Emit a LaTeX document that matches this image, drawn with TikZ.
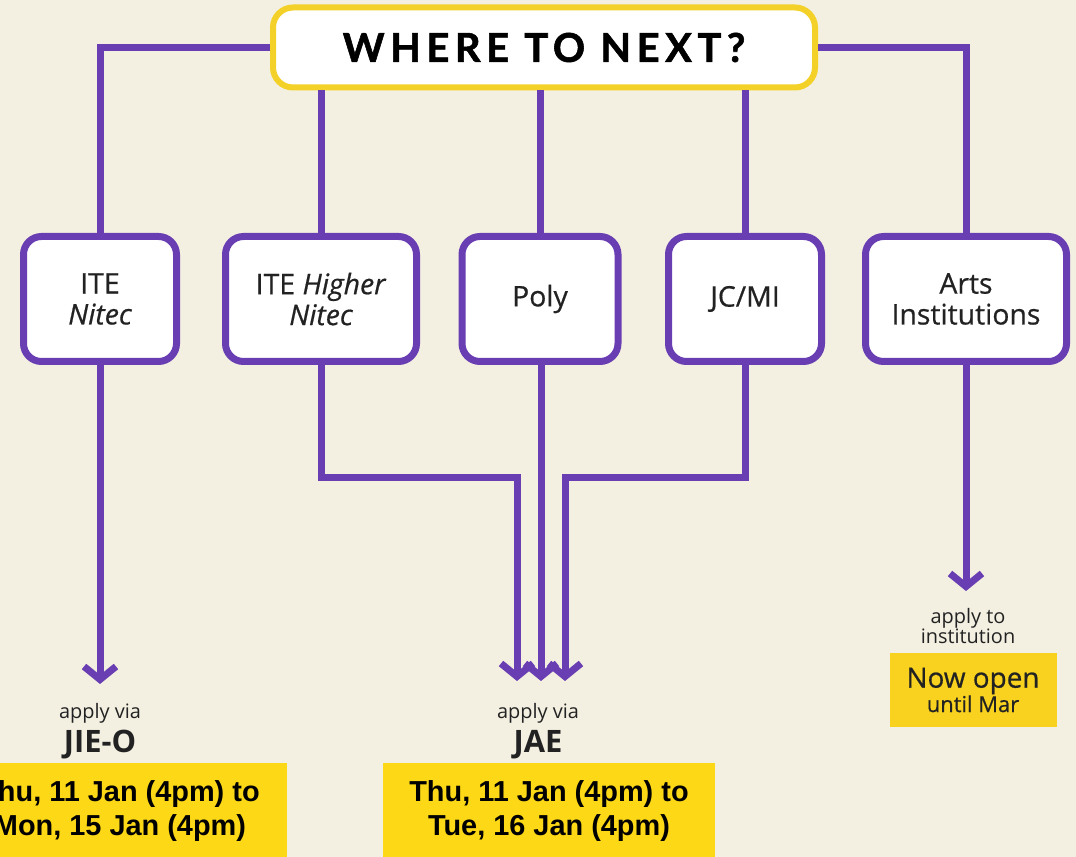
\documentclass[tikz,border=0pt]{standalone}
\usepackage{fontspec}
\setmainfont[FakeBold=0.6]{Open Sans}
\newfontfamily\plainfont{Open Sans}
\newfontfamily\datefont{Liberation Sans}
\newfontfamily\headfont[LetterSpace=14,BoldFeatures={FakeBold=1.4}]{Lato}
\usetikzlibrary{arrows.meta,positioning}
\definecolor{bgcol}{HTML}{F3F0E1}
\definecolor{routecol}{HTML}{6A3EB3}
\definecolor{rimcol}{HTML}{F4D128}
\definecolor{datecol}{HTML}{FDD816}
\definecolor{opencol}{HTML}{F8D21F}
\definecolor{inkcol}{HTML}{222222}
\tikzset{
  route/.style={draw=routecol, line width=7bp},
  arrowroute/.style={route, -{Straight Barb[length=13bp,width=32bp]}},
  pathbox/.style={draw=routecol, line width=7bp, fill=white, rounded corners=18bp,
    minimum height=125bp, align=center, text=inkcol, font=\fontsize{28.5}{31}\selectfont},
  headbox/.style={draw=rimcol, line width=6bp, fill=white, rounded corners=20bp,
    minimum width=542bp, minimum height=80bp, font=\headfont\bfseries\fontsize{40}{40}\selectfont},
  hint/.style={text=inkcol, align=center, font=\plainfont\fontsize{20}{18}\selectfont},
  scheme/.style={text=inkcol, font=\plainfont\bfseries\fontsize{31}{32}\selectfont},
  datebox/.style={fill=datecol, align=center, inner sep=0pt, minimum height=96bp,
    font=\datefont\bfseries\fontsize{29}{34}\selectfont},
}
\begin{document}
\begin{tikzpicture}[>=latex,line join=miter]
  \useasboundingbox (0bp,0bp) rectangle (1076bp,857bp);
  \clip (0bp,0bp) rectangle (1076bp,857bp);
  \fill[bgcol] (0bp,0bp) rectangle (1076bp,857bp);
%%
  % Node: top
  \node[headbox] (top) at (544bp,809.5bp) {WHERE TO NEXT?};
  % Node: nitec
  \node[pathbox, minimum width=153bp] (nitec) at (100bp,558bp) {ITE\\\itshape Nitec};
  % Node: higher
  \node[pathbox, minimum width=191bp] (higher) at (321bp,558bp) {ITE \textit{Higher}\\\itshape Nitec};
  % Node: poly
  \node[pathbox, minimum width=156bp] (poly) at (540bp,558bp) {Poly};
  % Node: jcmi
  \node[pathbox, minimum width=153bp] (jcmi) at (745bp,558bp) {JC/MI};
  % Node: arts
  \node[pathbox, minimum width=201bp] (arts) at (966bp,558bp) {Arts\\Institutions};
%%
  \coordinate (split) at (0bp,379bp);
  \coordinate (nitecTip) at (100bp,173bp);
  \coordinate (jaeL) at (517bp,176bp);
  \coordinate (jaeM) at (541bp,176bp);
  \coordinate (jaeR) at (565bp,176bp);
  \coordinate (artsTip) at (966bp,266bp);
  % Edge: top -> nitec
  \draw[route] (top.west) -| (nitec.north);
  % Edge: top -> arts
  \draw[route] (top.east) -| (arts.north);
  % Edge: top -> higher
  \draw[route] (top.south -| higher) -- (higher.north);
  % Edge: top -> poly
  \draw[route] (top.south -| poly) -- (poly.north);
  % Edge: top -> jcmi
  \draw[route] (top.south -| jcmi) -- (jcmi.north);
  % Edge: nitec -> jieo
  \draw[arrowroute] (nitec.south) -- (nitecTip);
  % Edge: higher -> jae
  \draw[arrowroute] (higher.south) -- (higher.south |- split) -| (jaeL);
  % Edge: poly -> jae
  \draw[arrowroute] (poly.south -| jaeM) -- (jaeM);
  % Edge: jcmi -> jae
  \draw[arrowroute] (jcmi.south) -- (jcmi.south |- split) -| (jaeR);
  % Edge: arts -> institution
  \draw[arrowroute] (arts.south) -- (artsTip);
%%
  % Node: jieo
  \node[hint] (jieoHint) at (100bp,144bp) {apply via};
  \node[scheme] (jieo) at (100bp,112bp) {JIE-O};
  % Node: jae
  \node[hint] (jaeHint) at (538bp,144bp) {apply via};
  \node[scheme] (jae) at (538bp,112bp) {JAE};
  % Node: institution
  \node[hint] (instHint) at (968bp,231bp) {apply to\\institution};
  \node[fill=opencol, minimum width=167bp, minimum height=74bp, inner sep=0pt,
    align=center, text=inkcol] (open) at (973bp,167bp)
    {{\fontsize{28}{30}\selectfont Now open}\\{\fontsize{22}{24}\selectfont until Mar}};
  % Node: dates
  \node[datebox, minimum width=334bp] (jieoDates) at (120bp,46bp)
    {Thu, 11 Jan (4pm) to\\Mon, 15 Jan (4pm)};
  \node[datebox, minimum width=332bp] (jaeDates) at (549bp,46bp)
    {Thu, 11 Jan (4pm) to\\Tue, 16 Jan (4pm)};
%
\end{tikzpicture}
\end{document}
